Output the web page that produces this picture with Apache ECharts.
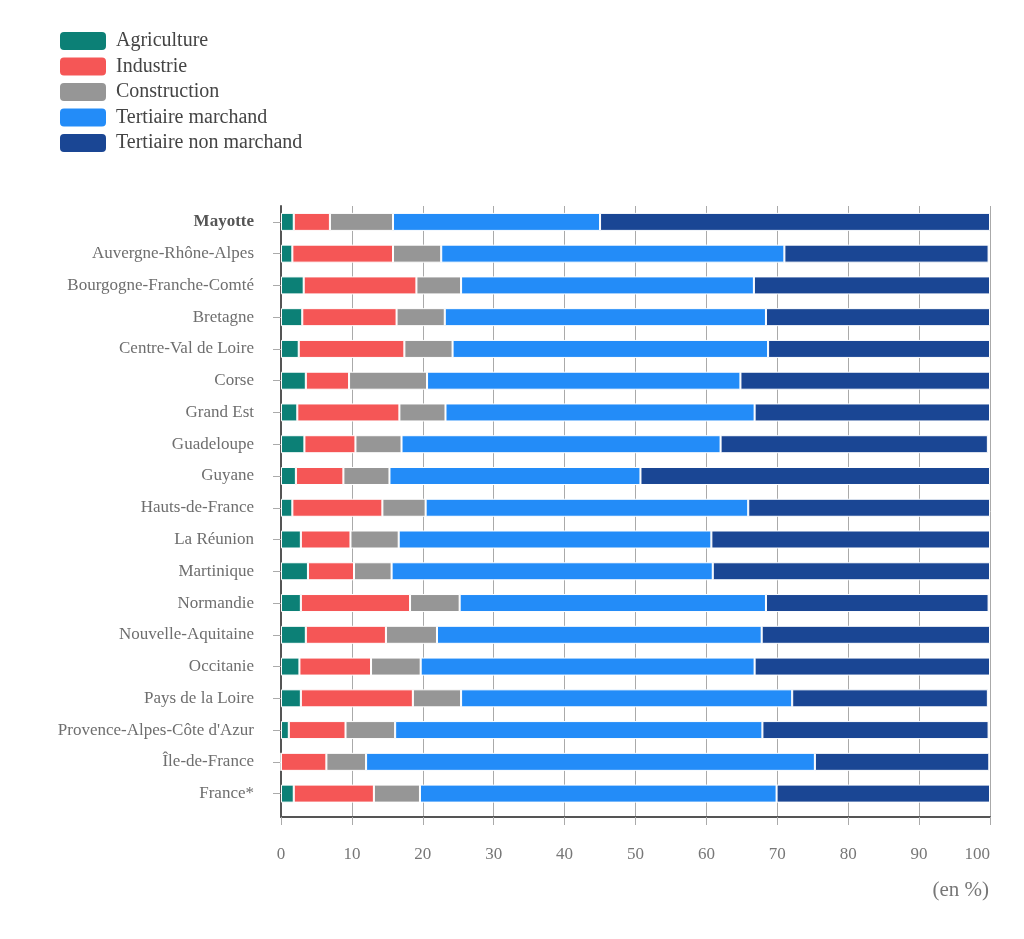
<!DOCTYPE html>
<html>
<head>
<meta charset="utf-8">
<script src="https://cdn.jsdelivr.net/npm/echarts@6/dist/echarts.min.js"></script>
<style>
  html, body { margin: 0; padding: 0; background: #fff; }
  #chart { width: 1024px; height: 939px; }
</style>
</head>
<body>
<div id="chart"></div>
<script>
const regions = [
  "Mayotte", "Auvergne-Rhône-Alpes", "Bourgogne-Franche-Comté", "Bretagne",
  "Centre-Val de Loire", "Corse", "Grand Est", "Guadeloupe", "Guyane",
  "Hauts-de-France", "La Réunion", "Martinique", "Normandie",
  "Nouvelle-Aquitaine", "Occitanie", "Pays de la Loire",
  "Provence-Alpes-Côte d'Azur", "Île-de-France", "France*"
];
const agriculture = [1.8, 1.6, 3.2, 3.0, 2.5, 3.5, 2.3, 3.3, 2.1, 1.6, 2.8, 3.8, 2.8, 3.5, 2.6, 2.8, 1.1, 0.0, 1.8];
const industrie = [5.1, 14.2, 15.9, 13.3, 14.9, 6.1, 14.4, 7.2, 6.7, 12.7, 7.0, 6.5, 15.4, 11.3, 10.1, 15.8, 8.0, 6.4, 11.3];
const construction = [8.9, 6.8, 6.3, 6.8, 6.8, 11.0, 6.5, 6.5, 6.5, 6.1, 6.8, 5.3, 7.0, 7.2, 7.0, 6.8, 7.0, 5.6, 6.5];
const tertMarchand = [29.2, 48.4, 41.3, 45.3, 44.5, 44.2, 43.6, 45.0, 35.4, 45.5, 44.1, 45.3, 43.2, 45.8, 47.1, 46.7, 51.8, 63.3, 50.3];
const tertNonMarchand = [55.0, 28.8, 33.3, 31.6, 31.3, 35.2, 33.2, 37.7, 49.3, 34.1, 39.3, 39.1, 31.4, 32.2, 33.2, 27.6, 31.9, 24.6, 30.1];
const xTicks = [0, 10, 20, 30, 40, 50, 60, 70, 80, 90, 100];

const seriesDefs = [
  { name: "Agriculture", color: "#0c8076", data: agriculture },
  { name: "Industrie", color: "#f55656", data: industrie },
  { name: "Construction", color: "#969696", data: construction },
  { name: "Tertiaire marchand", color: "#238cf8", data: tertMarchand },
  { name: "Tertiaire non marchand", color: "#1a4694", data: tertNonMarchand }
];

const serif = "'Liberation Serif', 'DejaVu Serif', serif";
const chart = echarts.init(document.getElementById("chart"));

chart.setOption({
  animation: false,
  backgroundColor: "#fff",
  legend: {
    orient: "vertical",
    left: 58,
    top: 30,
    padding: 0,
    itemWidth: 48,
    itemHeight: 20,
    itemGap: 3.5,
    icon: "roundRect",
    data: seriesDefs.map(s => s.name),
    textStyle: { fontFamily: serif, fontSize: 20, lineHeight: 20, color: "#444", padding: [0, 0, 0, 4] }
  },
  graphic: [{
    type: "text",
    right: 35,
    top: 880,
    style: { text: "(en %)", font: "21px " + serif, fill: "#777" }
  }],
  grid: [
    { left: 281, right: 34, top: 206, bottom: 122 },
    { left: 281, right: 34, top: 206, height: 603.5 }
  ],
  xAxis: [
    {
      gridIndex: 0,
      type: "value",
      min: 0,
      max: 100,
      interval: 10,
      axisLine: { show: true, lineStyle: { color: "#555", width: 2 } },
      axisTick: { show: true, length: 8, lineStyle: { color: "#aaa" } },
      axisLabel: {
        margin: 29,
        fontFamily: serif,
        fontSize: 17,
        color: "#777",
        alignMaxLabel: "right",
        formatter: v => xTicks.includes(v) ? String(v) : ""
      },
      splitLine: { show: true, lineStyle: { color: "#aaa", width: 1 } }
    },
    {
      gridIndex: 1,
      type: "value",
      min: 0,
      max: 100,
      show: false
    }
  ],
  yAxis: [
    {
      gridIndex: 0,
      type: "value",
      min: 0,
      max: 1,
      axisLine: { show: true, lineStyle: { color: "#555", width: 2 } },
      axisTick: { show: false },
      axisLabel: { show: false },
      splitLine: { show: false }
    },
    {
      gridIndex: 1,
      type: "category",
      inverse: true,
      data: regions,
      axisLine: { show: false },
      axisTick: { show: true, alignWithLabel: true, length: 8, lineStyle: { color: "#aaa" } },
      axisLabel: {
        margin: 27,
        fontFamily: serif,
        fontSize: 17,
        color: "#6e6e6e",
        formatter: v => v === "Mayotte" ? "{b|" + v + "}" : v,
        rich: {
          b: { fontFamily: serif, fontSize: 17, fontWeight: "bold", color: "#555" }
        }
      }
    }
  ],
  series: seriesDefs.map(s => ({
    name: s.name,
    type: "bar",
    stack: "total",
    xAxisIndex: 1,
    yAxisIndex: 1,
    barWidth: 18,
    data: s.data,
    itemStyle: { color: s.color, borderColor: "#fff", borderWidth: 1 }
  }))
});
</script>
</body>
</html>
